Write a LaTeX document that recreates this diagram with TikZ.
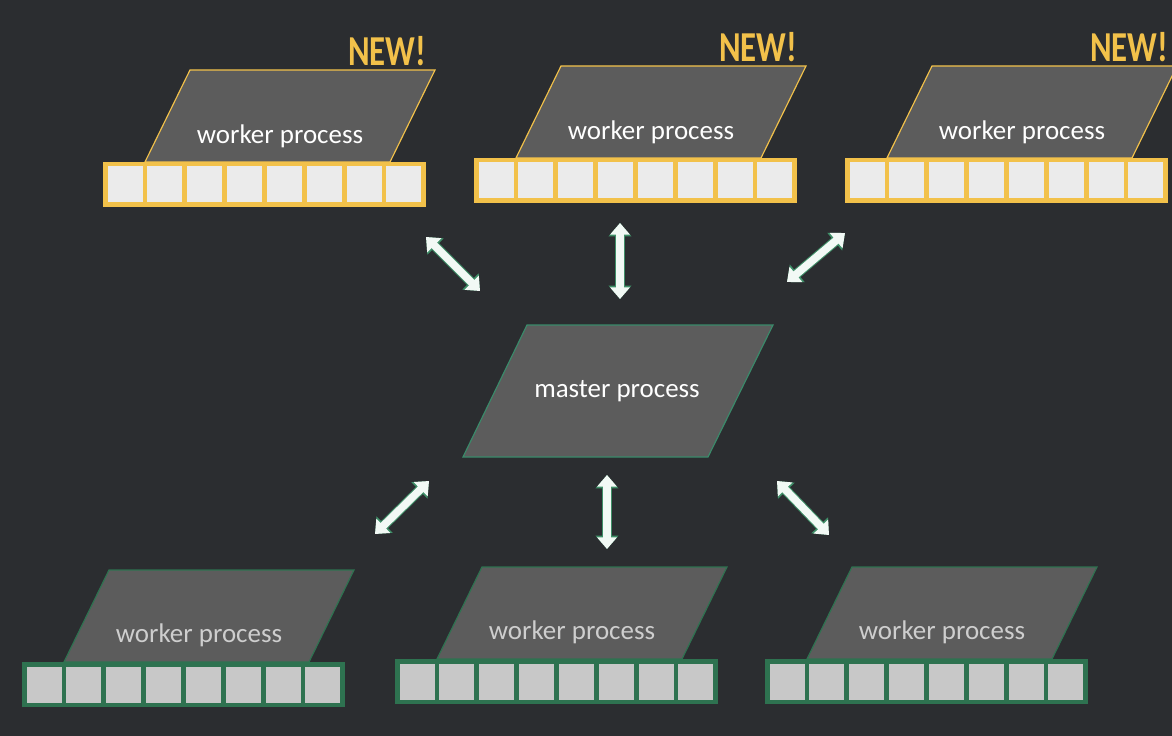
\documentclass[tikz,border=0pt]{standalone}
\usepackage{fontspec}
\setmainfont{Carlito}
\usetikzlibrary{arrows.meta}
\definecolor{bgdark}{HTML}{2B2D30}
\definecolor{procgrey}{HTML}{5C5C5C}
\definecolor{newyellow}{HTML}{F2C14A}
\definecolor{oldgreen}{HTML}{2E7250}
\definecolor{mastergreen}{HTML}{3A8A6A}
\definecolor{newcell}{HTML}{EBEBEB}
\definecolor{oldcell}{HTML}{C8C8C8}
\definecolor{linkwhite}{HTML}{F2F9F5}
\definecolor{linkgreen}{HTML}{3F8F68}

\begin{document}
\begin{tikzpicture}[x=0.03cm, y=-0.03cm,
    proc/.style={fill=procgrey, line width=1pt},
    proclabel/.style={font=\fontsize{23}{27}\selectfont},
    newtag/.style={font=\bfseries\fontsize{28}{32}\selectfont, text=newyellow, inner sep=0pt},
    linkedge/.style={draw=linkgreen, line width=8.4pt, {Triangle[width=19pt,length=11.5pt]}-{Triangle[width=19pt,length=11.5pt]}},
    link/.style={draw=linkwhite, line width=6.6pt, {Triangle[width=16.5pt,length=10pt]}-{Triangle[width=16.5pt,length=10pt]}}]
    \fill[bgdark] (0,0) rectangle (1172,736);
    \clip (0,0) rectangle (1172,736);

    % new workers
    \foreach \name/\L/\T in {w1/103/162, w2/474/158, w3/845/158} {
        \draw[proc, draw=newyellow] (\L+42,\T) -- (\L+287,\T) -- (\L+332,\T-92) -- (\L+87,\T-92) -- cycle;
        \fill[newyellow] (\L,\T) rectangle (\L+323,\T+45);
        \foreach \i in {0,...,7}
            \fill[newcell] (\L+4.5+\i*39.85,\T+4.5) rectangle ++(35,36);
        \node[proclabel, text=white] (\name) at (\L+177,\T-26) {worker process};
        \node[newtag, anchor=west] (\name-new) at (\L+245,\T-111) {\scalebox{1}[1.3]{NEW!}};
    }

    % old workers
    \foreach \name/\L/\T in {w4/22/662, w5/395/659, w6/765/659} {
        \draw[proc, draw=oldgreen] (\L+42,\T) -- (\L+287,\T) -- (\L+332,\T-92) -- (\L+87,\T-92) -- cycle;
        \fill[oldgreen] (\L,\T) rectangle (\L+323,\T+45);
        \foreach \i in {0,...,7}
            \fill[oldcell] (\L+4.5+\i*39.85,\T+4.5) rectangle ++(35,36);
        \node[proclabel, text=oldcell!90!white] (\name) at (\L+177,\T-27) {worker process};
    }

    % master
    \draw[proc, draw=mastergreen] (463,457) -- (708,457) -- (773,325) -- (527,325) -- cycle;
    \node[proclabel, text=white] (master) at (617,391) {master process};

    % links
    \coordinate (l1a) at (426,237);
    \coordinate (l1b) at (480,291);
    \coordinate (l2a) at (620,223);
    \coordinate (l2b) at (620,299);
    \coordinate (l3a) at (787,282);
    \coordinate (l3b) at (845,233);
    \coordinate (l4a) at (375,534);
    \coordinate (l4b) at (429,481);
    \coordinate (l5a) at (607,475);
    \coordinate (l5b) at (607,549);
    \coordinate (l6a) at (777,481);
    \coordinate (l6b) at (829,535);
    \foreach \s/\e in {l1a/l1b, l2a/l2b, l3a/l3b, l4a/l4b, l5a/l5b, l6a/l6b} {
        \draw[linkedge] (\s) -- (\e);
        \draw[link] (\s) -- (\e);
    }
\end{tikzpicture}
\end{document}
